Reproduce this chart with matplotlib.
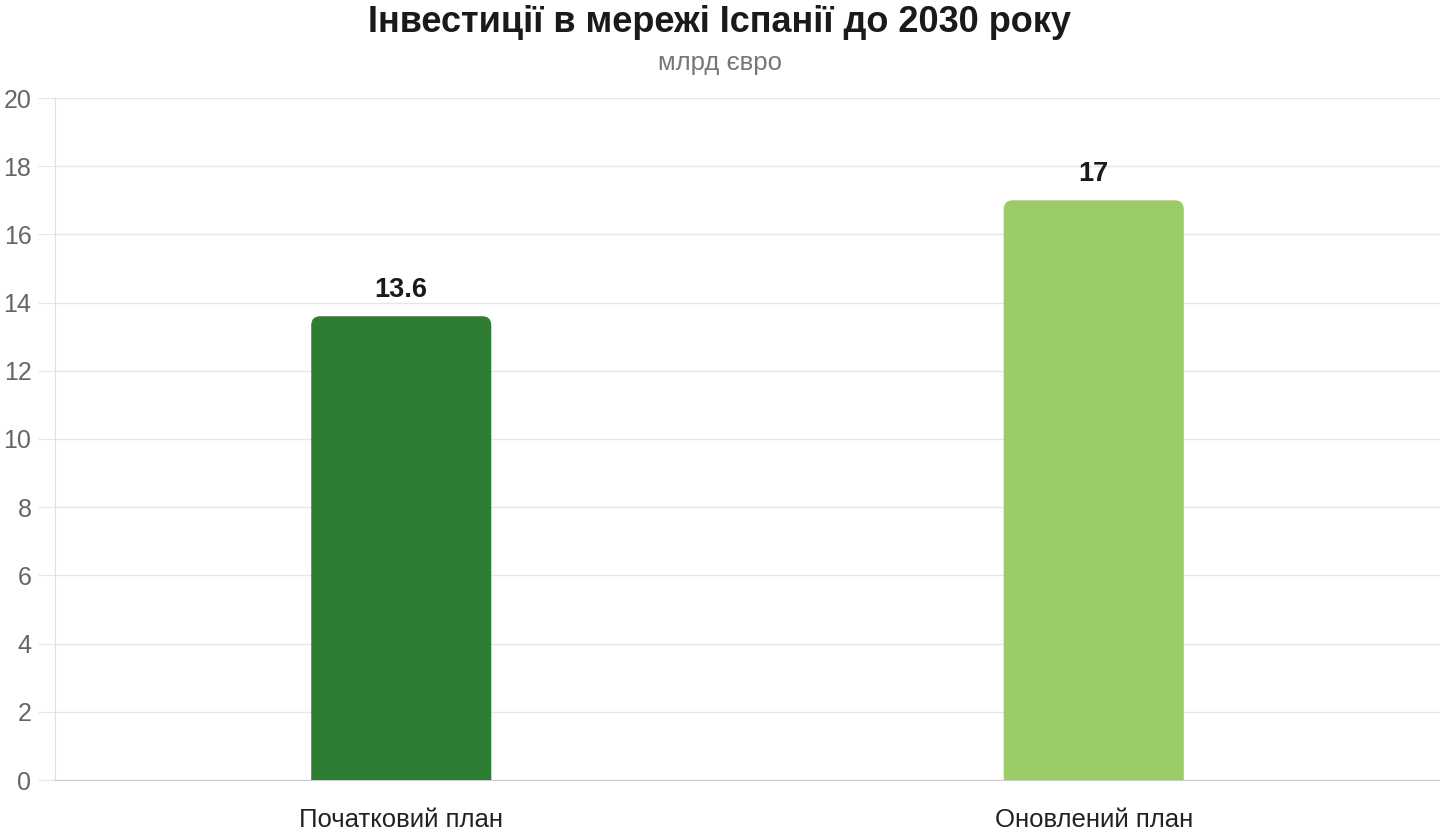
import matplotlib
matplotlib.use('Agg')
import matplotlib.pyplot as plt
from matplotlib.patches import FancyBboxPatch

plt.rcParams['font.family'] = ['Liberation Sans', 'DejaVu Sans']

categories = ['Початковий план', 'Оновлений план']
values = [13.6, 17]
value_labels = ['13.6', '17']
colors = ['#2e7d32', '#9ccc65']
yticks = [0, 2, 4, 6, 8, 10, 12, 14, 16, 18, 20]

fig = plt.figure(figsize=(14.4, 8.4), dpi=100)
ax = fig.add_axes([55/1440, 60/840, 1 - 55/1440, 682/840])

width = 0.26
ax.set_xlim(-0.5, 1.5)
ax.set_ylim(0, 20)

# rounded top corners: radius in data units, aspect from px scale
px_x = 2.0 / 1385
px_y = 20.0 / 682
r = 9 * px_x
for i, (v, c) in enumerate(zip(values, colors)):
    x0 = i - width / 2
    # start below zero so the bottom corners get clipped by the axes
    y0 = -20 * px_y
    box = FancyBboxPatch((x0, y0), width, v - y0,
                         boxstyle='round,pad=0,rounding_size=%f' % r,
                         mutation_aspect=px_y / px_x,
                         fc=c, ec='none', zorder=3)
    ax.add_patch(box)
    ax.text(i, v + 0.4, value_labels[i], ha='center', va='bottom',
            fontsize=19.5, fontweight='bold', color='#1a1a1a')

ax.set_yticks(yticks)
ax.set_yticklabels([str(t) for t in yticks], fontsize=18, color='#666666')
ax.set_xticks(range(len(categories)))
ax.set_xticklabels(categories, fontsize=18.5, color='#222222')
ax.tick_params(axis='y', length=12, color='#e6e6e6', pad=5)
ax.tick_params(axis='x', length=0, pad=20)

ax.grid(axis='y', color='#e6e6e6', linewidth=1, zorder=0)
ax.set_axisbelow(True)
for s in ['top', 'right']:
    ax.spines[s].set_visible(False)
ax.spines['left'].set_color('#e0e0e0')
ax.spines['bottom'].set_color('#cccccc')

fig.text(0.5, 1 - 22/840, 'Інвестиції в мережі Іспанії до 2030 року', ha='center',
         va='center', fontsize=26, fontweight='bold', color='#1a1a1a')
fig.text(0.5, 1 - 63/840, 'млрд євро', ha='center', va='center',
         fontsize=18.5, color='#777777')

fig.savefig('out.png', dpi=100)
